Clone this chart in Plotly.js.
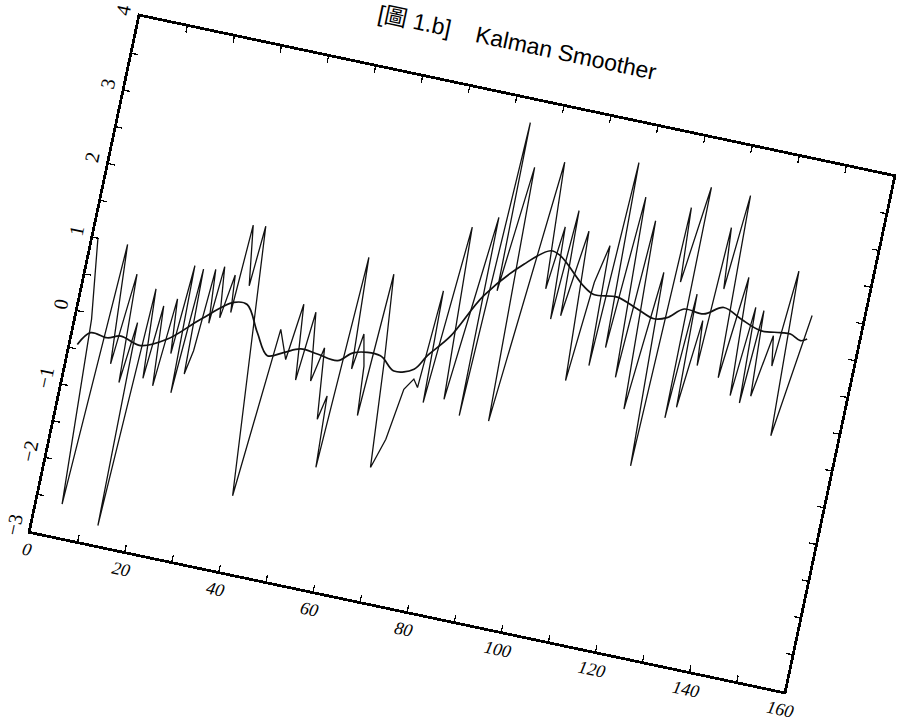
<!DOCTYPE html>
<html>
<head>
<meta charset="utf-8">
<script src="https://cdn.plot.ly/plotly-3.0.1.min.js"></script>
<style>
html, body { margin:0; padding:0; background:#fff; width:899px; height:722px; overflow:hidden; }
#plot { position:absolute; left:-3px; top:-9px; width:930px; height:726px; transform:rotate(12deg); transform-origin:50% 50%; }
</style>
</head>
<body>
<div id="plot"></div>
<script>
const xNoisy = [1.0,3.2,5.2,7.3,9.0,10.5,11.5,12.7,13.4,15.0,16.2,17.3,18.5,19.8,20.8,21.9,22.5,23.8,24.4,25.3,26.3,27.2,28.0,29.2,30.5,31.2,32.0,33.8,34.6,39.5,42.1,44.4,45.7,47.3,48.5,50.4,51.8,53.4,54.4,55.2,56.9,58.2,59.2,60.6,61.4,62.7,64.5,66.3,68.2,69.7,71.3,72.4,73.5,74.2,76.6,78.3,79.8,81.6,82.1,83.9,84.4,86.7,88.3,90.5,92.6,94.2,95.5,96.5,97.6,98.4,100.5,102.2,103.8,105.4,106.3,107.7,108.9,110.6,112.2,113.6,115.3,117.5,119.1,120.3,121.3,123.5,124.0,125.2,125.9,127.5,128.3,129.3,130.4,131.8,133.1,135.0,136.3,137.7,138.5,139.5,140.5,142.5,143.5,144.9,146.3,149.5];
const yNoisy = [1.00,-0.07,-2.56,1.00,-0.60,0.64,-0.82,0.01,-2.74,0.50,-0.70,0.30,-0.77,0.43,-0.30,0.91,-0.81,0.89,-0.53,-0.20,0.92,0.20,0.98,0.30,0.90,0.40,1.60,0.80,1.62,-1.98,0.32,-0.06,0.71,-0.30,0.64,-0.27,0.20,-0.75,-0.42,-1.38,1.50,0.00,0.49,0.07,-0.59,1.35,0.20,-1.23,-0.82,-0.12,0.04,-0.06,1.27,-0.24,2.18,-0.14,1.00,2.38,-0.31,3.70,1.42,3.13,-0.30,1.50,3.28,1.58,2.44,1.20,2.69,1.27,2.45,0.44,1.80,2.32,0.70,3.48,0.98,3.05,0.62,2.77,0.23,2.12,-0.49,3.04,2.04,3.36,0.23,1.93,0.40,1.60,1.00,2.89,2.07,3.36,0.90,2.29,0.70,1.92,0.63,1.90,0.75,1.60,1.20,2.51,0.29,1.97];

// Kalman smoother estimate
const xSmooth = [1.4,3.6,7.2,9.9,14.3,19.5,25.4,31.4,34.2,37.5,40.5,43.8,47.0,50.6,55.0,58.0,63.5,66.9,70.9,73.0,76.9,81.9,88.7,93.6,95.8,101.8,104.2,109.1,113.7,117.5,120.1,123.2,127.4,131.2,135.1,139.7,143.8,145.9,148.2,149.5];
const ySmooth = [-0.44,-0.25,-0.27,-0.21,-0.28,-0.12,0.23,0.54,0.55,0.21,-0.06,0.03,0.12,0.10,0.07,0.22,0.25,0.09,0.17,0.38,0.70,1.32,1.84,2.09,2.05,1.72,1.64,1.67,1.57,1.49,1.54,1.70,1.69,1.83,1.73,1.63,1.66,1.67,1.61,1.65];

const titleText = "[圖 1.b]\u00a0\u00a0\u00a0\u00a0Kalman Smoother";

const traces = [
  { x: xNoisy, y: yNoisy, type: 'scatter', mode: 'lines', line: { color: '#111', width: 1.3 }, hoverinfo: 'skip' },
  { x: xSmooth, y: ySmooth, type: 'scatter', mode: 'lines', line: { color: '#111', width: 1.7, shape: 'spline' }, hoverinfo: 'skip' }
];

const tickFontX = { family: '"Liberation Serif", serif', size: 18, color: '#000', style: 'italic' };
const tickFontY = { family: '"Liberation Serif", serif', size: 20, color: '#000' };

const layout = {
  width: 930, height: 726,
  margin: { l: 80, r: 80, t: 100, b: 100 },
  paper_bgcolor: 'rgba(0,0,0,0)', plot_bgcolor: 'rgba(0,0,0,0)',
  showlegend: false,
  title: {
    text: titleText,
    xref: 'paper', x: 0.486, xanchor: 'center',
    yref: 'paper', y: 1, yanchor: 'bottom',
    pad: { b: 45 },
    font: { family: '"Liberation Sans", "Noto Sans CJK TC", sans-serif', size: 23, color: '#000' }
  },
  xaxis: {
    range: [0, 160], tick0: 0, dtick: 20,
    ticks: 'inside', ticklen: 6, tickwidth: 1.3, tickcolor: '#000',
    showline: true, linewidth: 2.8, linecolor: '#000', mirror: 'ticks',
    showgrid: false, zeroline: false,
    tickfont: tickFontX,
    minor: { dtick: 10, ticks: 'inside', ticklen: 6, tickwidth: 1.3, tickcolor: '#000', showgrid: false }
  },
  yaxis: {
    range: [-3, 4], tick0: 0, dtick: 1, tickangle: -90,
    ticks: 'inside', ticklen: 6, tickwidth: 1.3, tickcolor: '#000',
    showline: true, linewidth: 2.8, linecolor: '#000', mirror: 'ticks',
    showgrid: false, zeroline: false,
    tickfont: tickFontY,
    minor: { dtick: 0.5, ticks: 'inside', ticklen: 6, tickwidth: 1.3, tickcolor: '#000', showgrid: false }
  }
};

Plotly.newPlot('plot', traces, layout, { displayModeBar: false, staticPlot: true });
</script>
</body>
</html>
